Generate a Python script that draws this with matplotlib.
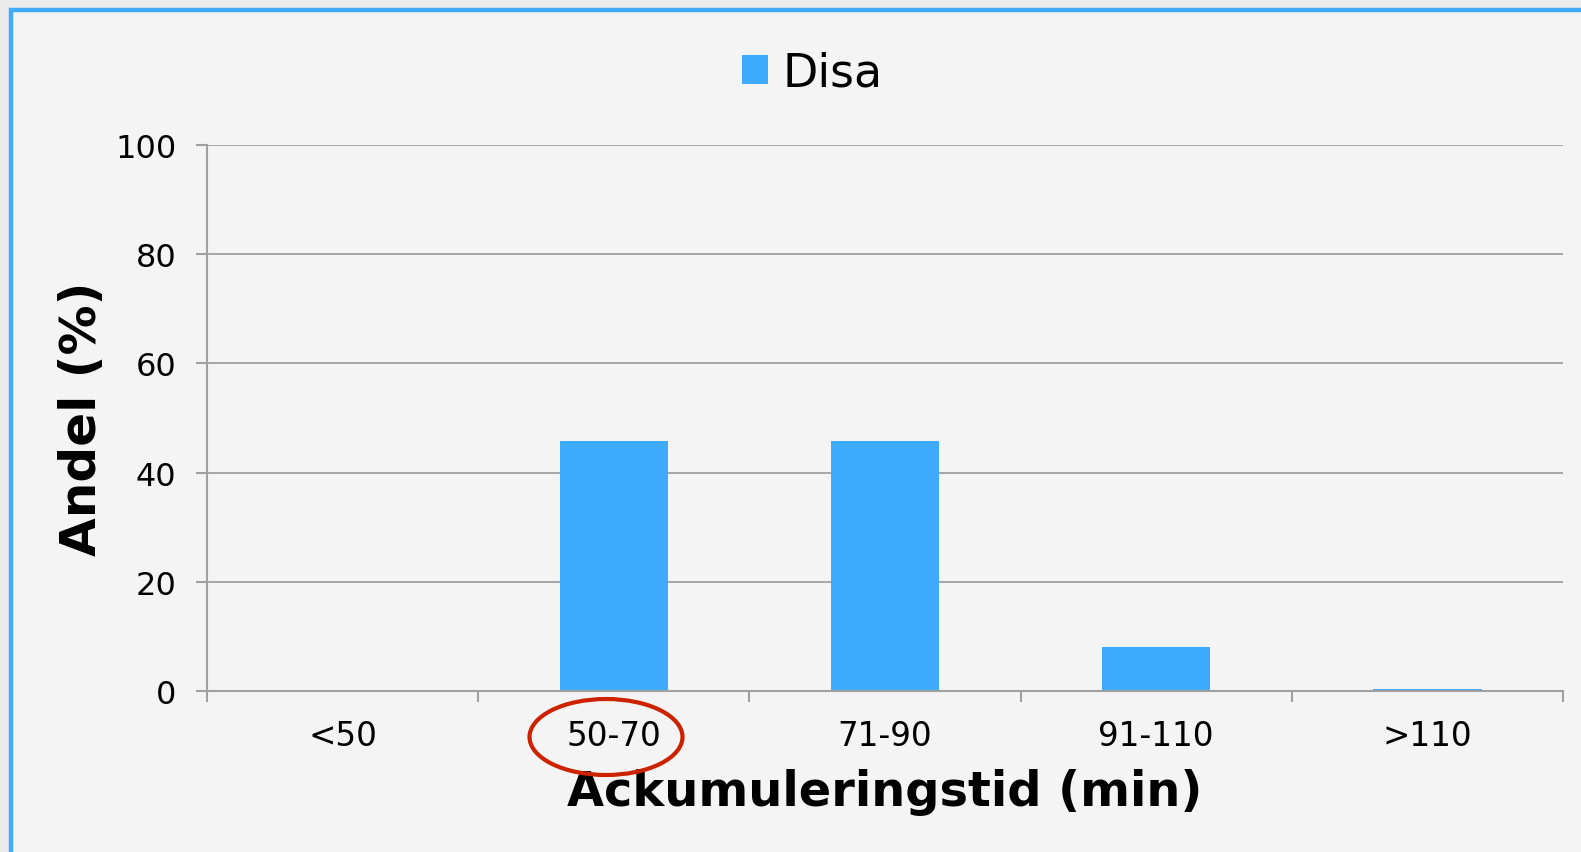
import matplotlib
matplotlib.use("Agg")
import matplotlib.pyplot as plt
from matplotlib.patches import Rectangle, Ellipse

categories = ["<50", "50-70", "71-90", "91-110", ">110"]
disa = [0.0, 45.7, 45.7, 8.1, 0.4]
yticks = [0, 20, 40, 60, 80, 100]

W, H = 1581, 853
BG = "#f4f4f4"
BLUE = "#3eabff"
GRAY = "#a0a0a0"

def fx(px):
    return px / W

def fy(py):
    return 1 - py / H

fig = plt.figure(figsize=(W / 100, H / 100), dpi=100)
fig.patch.set_facecolor("#ebebeb")

# panel with blue frame (only left and top visible)
fig.patches.append(Rectangle((fx(10.5), fy(H + 20)), fx(W + 20), (H + 20 - 11) / H,
                             transform=fig.transFigure, facecolor=BG,
                             edgecolor=BLUE, linewidth=3.2, zorder=-5))

ax = fig.add_axes([fx(207), fy(692), fx(1563 - 207), (692 - 146) / H])
ax.set_facecolor(BG)

x = list(range(len(categories)))
ax.bar(x, disa, width=0.4, color=BLUE, label="Disa", zorder=3)

ax.set_xlim(-0.5, len(categories) - 0.5)
ax.set_ylim(0, 100)
ax.set_yticks(yticks)
ax.yaxis.grid(True, color=GRAY, linewidth=1.3, zorder=0)
ax.set_axisbelow(True)

for s in ["top", "right"]:
    ax.spines[s].set_visible(False)
for s in ["left", "bottom"]:
    ax.spines[s].set_color(GRAY)
    ax.spines[s].set_linewidth(1.5)
    ax.spines[s].set_zorder(4)

# x ticks at category boundaries, labels centred
ax.set_xticks([i - 0.5 for i in range(len(categories) + 1)])
ax.set_xticklabels([])
ax.set_xticks(x, minor=True)
ax.set_xticklabels(categories, minor=True, fontsize=23.5)
ax.tick_params(axis="x", which="major", length=8, width=1.5, color=GRAY, direction="out")
ax.tick_params(axis="x", which="minor", length=0, pad=20)
ax.tick_params(axis="y", length=8, width=1.5, color=GRAY, labelsize=23, pad=14)

ax.set_xlabel("Ackumuleringstid (min)", fontsize=34.5, fontweight="bold")
ax.xaxis.set_label_coords(0.5, (692 - 793) / 546)
ax.xaxis.label.set_va("center")
ax.set_ylabel("Andel (%)", fontsize=36, fontweight="bold")
ax.yaxis.set_label_coords((82 - 207) / 1356, 0.5)
ax.yaxis.label.set_va("center")

fig.legend(loc="center", bbox_to_anchor=(fx(812), fy(74)), frameon=False,
           fontsize=33, handlelength=0.58, handleheight=0.58, handletextpad=0.3)

# red circle around 50-70
fig.patches.append(Ellipse((fx(606), fy(738)), fx(153), 76 / H,
                           transform=fig.transFigure, fill=False,
                           edgecolor="#cc2200", linewidth=3, zorder=10))

plt.savefig("out.png", dpi=100, facecolor=fig.get_facecolor())
